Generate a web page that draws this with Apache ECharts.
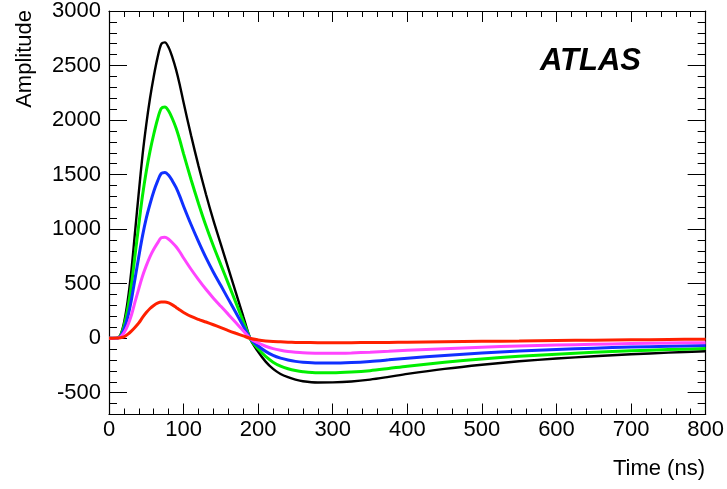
<!DOCTYPE html>
<html>
<head>
<meta charset="utf-8">
<script src="https://cdn.jsdelivr.net/npm/echarts@6/dist/echarts.min.js"></script>
<style>html,body{margin:0;padding:0;background:#fff}#c{width:727px;height:489px}</style>
</head>
<body>
<div id="c"></div>
<script>
const time = [0,5,10,15,20,25,30,35,40,45,50,55,60,65,70,75,80,85,90,95,100,110,120,130,140,150,160,170,180,190,200,210,220,230,240,250,260,280,300,325,350,375,400,450,500,550,600,650,700,750,800];
const black = [0,0,0,25,140,340,620,980,1340,1680,1960,2200,2400,2570,2695,2712,2665,2575,2460,2320,2160,1860,1580,1320,1080,860,640,420,200,-15,-125,-215,-282,-328,-358,-380,-395,-406,-405,-397,-380,-355,-328,-282,-244,-212,-187,-166,-148,-133,-120];
const green = [0,0,0,20,110,265,485,765,1045,1310,1530,1715,1870,2005,2105,2120,2083,2012,1925,1815,1690,1455,1235,1030,845,672,500,328,155,-12,-98,-168,-220,-256,-280,-297,-308,-318,-318,-311,-298,-278,-257,-221,-191,-166,-147,-130,-116,-105,-95];
const blue = [0,0,0,14,80,190,350,550,750,940,1100,1230,1345,1438,1510,1520,1494,1442,1380,1300,1210,1042,885,738,605,482,358,235,112,-9,-72,-121,-158,-183,-200,-213,-221,-228,-228,-223,-213,-199,-184,-158,-137,-118,-104,-92,-82,-75,-68];
const magenta = [0,0,0,8,48,115,210,335,455,570,665,748,815,872,920,925,907,875,838,790,735,632,537,448,367,292,218,143,68,-6,-44,-74,-96,-111,-122,-129,-134,-138,-138,-135,-129,-121,-111,-96,-83,-71,-63,-56,-50,-45,-41];
const red = [0,0,1,4,12,35,65,100,140,190,235,272,300,321,332,332,323,305,282,258,236,199,172,148,123,97,70,45,21,-3,-16,-25,-31,-34,-37,-39,-40,-41,-41,-41,-40,-39,-37,-33,-29,-26,-22,-18,-15,-12,-9];
const yLabels = [-500,0,500,1000,1500,2000,2500,3000];
const xTitle = 'Time (ns)';
const yTitle = 'Amplitude';
const tag = 'ATLAS';

const font = 'Liberation Sans, Arial, Helvetica, sans-serif';
function pairs(v){return time.map((t,i)=>[t,v[i]]);}
const chart = echarts.init(document.getElementById('c'), null, {renderer:'canvas'});
const lineAx = {show:true,onZero:false,lineStyle:{color:'#000',width:1.2}};
const xBase = {type:'value',min:0,max:800,interval:100,splitLine:{show:false},axisLine:lineAx,
  axisTick:{show:true,inside:true,length:11,lineStyle:{color:'#000',width:1}},
  minorTick:{show:true,splitNumber:5,length:6,lineStyle:{color:'#000',width:1}}};
const yMajor = {type:'value',min:-700,max:3000,splitLine:{show:false},axisLine:lineAx,
  axisTick:{show:true,inside:true,length:18,customValues:yLabels,lineStyle:{color:'#000',width:1}}};
const yMinor = {type:'value',min:-700,max:3000,interval:100,splitLine:{show:false},axisLine:{show:false,onZero:false},
  axisLabel:{show:false},axisTick:{show:true,inside:true,length:8,lineStyle:{color:'#000',width:1}}};
function mk(color,data,w){return {type:'line',data:pairs(data),showSymbol:false,smooth:0.3,
  lineStyle:{color:color,width:w},itemStyle:{color:color},silent:true,animation:false,xAxisIndex:0,yAxisIndex:0};}
chart.setOption({
  animation:false,
  backgroundColor:'#fff',
  grid:{left:109,top:10,right:21,bottom:74.5,containLabel:false},
  xAxis:[
    Object.assign({},xBase,{position:'bottom',axisLabel:{show:true,color:'#000',fontSize:22,fontFamily:font,margin:4,formatter:v=>String(v)}}),
    Object.assign({},xBase,{position:'top',axisLabel:{show:false}})
  ],
  yAxis:[
    Object.assign({},yMajor,{position:'left',axisLabel:{show:true,customValues:yLabels,color:'#000',fontSize:22,fontFamily:font,margin:8,formatter:v=>String(v)}}),
    Object.assign({},yMinor,{position:'left'}),
    Object.assign({},yMajor,{position:'right',axisLabel:{show:false}}),
    Object.assign({},yMinor,{position:'right'})
  ],
  series:[
    mk('#000000',black,2.4),
    mk('#00ee00',green,3),
    mk('#1030ff',blue,3),
    mk('#ff44ff',magenta,3),
    mk('#ff2000',red,3)
  ],
  graphic:[
    {type:'text',left:540,top:46,style:{text:tag,font:'italic bold 31px '+font,fill:'#000'}},
    {type:'text',right:22,top:458,style:{text:xTitle,font:'22px '+font,fill:'#000'}},
    {type:'text',x:25,y:10,rotation:Math.PI/2,style:{text:yTitle,font:'22px '+font,fill:'#000',textAlign:'right',textVerticalAlign:'middle'}}
  ]
});
</script>
</body>
</html>
